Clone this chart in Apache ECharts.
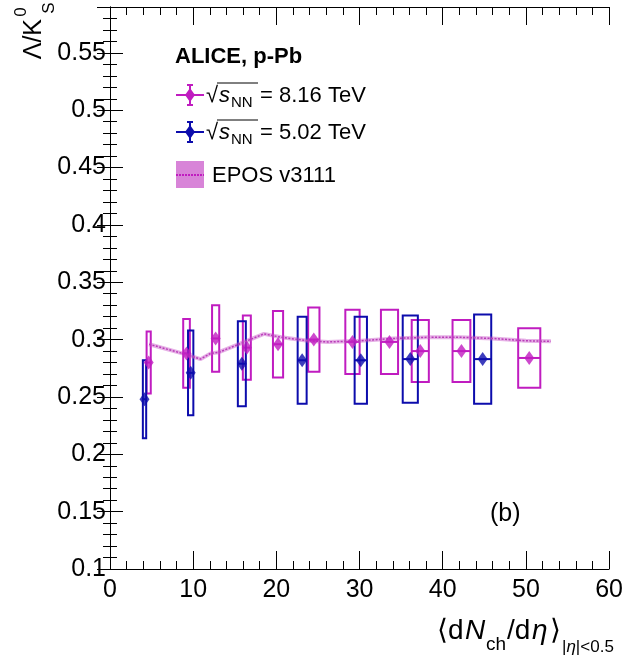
<!DOCTYPE html>
<html>
<head>
<meta charset="utf-8">
<script src="https://cdn.jsdelivr.net/npm/echarts@6/dist/echarts.min.js"></script>
<style>
html,body{margin:0;padding:0;background:#fff;}
#c{width:626px;height:658px;}
</style>
</head>
<body>
<div id="c"></div>
<script>
// ---- data ----
const xTicks = [0, 10, 20, 30, 40, 50, 60];
const yTicks = [0.1, 0.15, 0.2, 0.25, 0.3, 0.35, 0.4, 0.45, 0.5, 0.55];

// sqrt(sNN) = 8.16 TeV
const magX   = [4.65, 9.2, 12.7, 16.45, 20.2, 24.5, 29.15, 33.6, 37.3, 42.25, 50.4];
const magY   = [0.280, 0.288, 0.301, 0.293, 0.296, 0.300, 0.298, 0.298, 0.290, 0.290, 0.284];
const magSys = [0.027, 0.030, 0.029, 0.028, 0.029, 0.028, 0.028, 0.028, 0.027, 0.027, 0.026];
const magDx  = [0.25, 0.40, 0.43, 0.48, 0.61, 0.68, 0.86, 1.03, 1.03, 1.07, 1.33];

// sqrt(sNN) = 5.02 TeV
const bluX   = [4.15, 9.7, 15.85, 23.1, 30.15, 36.1, 44.8];
const bluY   = [0.248, 0.271, 0.279, 0.282, 0.282, 0.283, 0.283];
const bluSys = [0.034, 0.037, 0.037, 0.038, 0.038, 0.038, 0.039];
const bluDx  = [0.20, 0.32, 0.48, 0.54, 0.74, 0.91, 1.03];

// EPOS v3111
const eposX = [4.7, 8.7, 10.9, 12.1, 13.1, 15.5, 18.5, 20.6, 23.8, 26.2, 30.2, 34.1, 38.1, 42.1, 46.0, 50.0, 53.0];
const eposY = [0.296, 0.288, 0.283, 0.288, 0.289, 0.296, 0.305, 0.302, 0.299, 0.298, 0.299, 0.301, 0.302, 0.302, 0.301, 0.299, 0.2985];

// ---- styles ----
const MAG = '#c01cc0';
const BLU = '#0c0cac';
const EPOS = '#b83cb8';
const FONT = '"Liberation Sans", Arial, Helvetica, sans-serif';

const magData = magX.map((x, i) => [x, magY[i], magSys[i], magDx[i]]);
const bluData = bluX.map((x, i) => [x, bluY[i], bluSys[i], bluDx[i]]);
const eposData = eposX.map((x, i) => [x, eposY[i]]);

function boxRenderer(color) {
  return function (params, api) {
    const x = api.value(0), y = api.value(1), s = api.value(2), dx = api.value(3);
    const p1 = api.coord([x - dx, y + s]);
    const p2 = api.coord([x + dx, y - s]);
    const pl = api.coord([x - dx, y]);
    const pr = api.coord([x + dx, y]);
    return {
      type: 'group',
      children: [
        { type: 'rect', shape: { x: p1[0], y: p1[1], width: p2[0] - p1[0], height: p2[1] - p1[1] },
          style: { fill: 'none', stroke: color, lineWidth: 2 } },
        { type: 'line', shape: { x1: pl[0], y1: pl[1], x2: pr[0], y2: pr[1] },
          style: { stroke: color, lineWidth: 2 } }
      ]
    };
  };
}

const axisCommon = {
  axisLine: { show: true, lineStyle: { color: '#000', width: 1 } },
  splitLine: { show: false },
};

const chart = echarts.init(document.getElementById('c'), null, { renderer: 'canvas' });

function legendIcon(cx, cy, color) {
  return [
    { type: 'line', shape: { x1: cx - 14, y1: cy, x2: cx + 14, y2: cy }, style: { stroke: color, lineWidth: 2 } },
    { type: 'line', shape: { x1: cx, y1: cy - 10, x2: cx, y2: cy + 10 }, style: { stroke: color, lineWidth: 2 } },
    { type: 'line', shape: { x1: cx - 3, y1: cy - 10, x2: cx + 3, y2: cy - 10 }, style: { stroke: color, lineWidth: 2 } },
    { type: 'line', shape: { x1: cx - 3, y1: cy + 10, x2: cx + 3, y2: cy + 10 }, style: { stroke: color, lineWidth: 2 } },
    { type: 'polygon', shape: { points: [[cx, cy - 7], [cx + 5, cy], [cx, cy + 7], [cx - 5, cy]] }, style: { fill: color } }
  ];
}

function sqrtLabel(y, energy) {
  return [
    { type: 'text', x: 206, y: y, style: { text: '√', font: '22px ' + FONT, fill: '#000', textVerticalAlign: 'middle' } },
    { type: 'line', shape: { x1: 217, y1: y - 13, x2: 258, y2: y - 13 }, style: { stroke: '#000', lineWidth: 1 } },
    { type: 'text', x: 219, y: y, style: { text: 's', font: 'italic 22px ' + FONT, fill: '#000', textVerticalAlign: 'middle' } },
    { type: 'text', x: 231, y: y + 7, style: { text: 'NN', font: '15px ' + FONT, fill: '#000', textVerticalAlign: 'middle' } },
    { type: 'text', x: 260, y: y, style: { text: '= ' + energy + ' TeV', font: '22px ' + FONT, fill: '#000', textVerticalAlign: 'middle' } }
  ];
}

const graphics = [
  { type: 'text', x: 175, y: 57, style: { text: 'ALICE, p-Pb', font: 'bold 22px ' + FONT, fill: '#000', textVerticalAlign: 'middle' } },
  ...legendIcon(190, 95, MAG),
  ...sqrtLabel(96, '8.16'),
  ...legendIcon(190, 132, BLU),
  ...sqrtLabel(133, '5.02'),
  { type: 'rect', shape: { x: 176, y: 161, width: 28, height: 27 }, style: { fill: 'rgba(190,50,190,0.6)', stroke: 'none' } },
  { type: 'line', shape: { x1: 176, y1: 175, x2: 204, y2: 175 }, style: { stroke: MAG, lineWidth: 2, lineDash: [2, 1] } },
  { type: 'text', x: 212, y: 176, style: { text: 'EPOS v3111', font: '22px ' + FONT, fill: '#000', textVerticalAlign: 'middle' } },
  { type: 'text', x: 490, y: 514, style: { text: '(b)', font: '25px ' + FONT, fill: '#000', textVerticalAlign: 'middle' } },
  // y-axis title  Λ/K^0_S  (rotated)
  { type: 'text', x: 34, y: 19, rotation: Math.PI / 2,
    style: { text: 'Λ/K', font: '25px ' + FONT, fill: '#000', textAlign: 'right', textVerticalAlign: 'middle' } },
  { type: 'text', x: 21, y: 12, rotation: Math.PI / 2,
    style: { text: '0', font: '17px ' + FONT, fill: '#000', textAlign: 'center', textVerticalAlign: 'middle' } },
  { type: 'text', x: 49, y: 8, rotation: Math.PI / 2,
    style: { text: 'S', font: '17px ' + FONT, fill: '#000', textAlign: 'center', textVerticalAlign: 'middle' } },
  // x-axis title  <dN_ch/dη>_|η|<0.5
  { type: 'text', x: 437, y: 631, style: { text: '⟨d', font: '28px ' + FONT, fill: '#000', textVerticalAlign: 'middle' } },
  { type: 'text', x: 465, y: 631, style: { text: 'N', font: 'italic 28px ' + FONT, fill: '#000', textVerticalAlign: 'middle' } },
  { type: 'text', x: 486, y: 645, style: { text: 'ch', font: '19px ' + FONT, fill: '#000', textVerticalAlign: 'middle' } },
  { type: 'text', x: 507, y: 631, style: { text: '/d', font: '28px ' + FONT, fill: '#000', textVerticalAlign: 'middle' } },
  { type: 'text', x: 532, y: 631, style: { text: 'η', font: 'italic 28px ' + FONT, fill: '#000', textVerticalAlign: 'middle' } },
  { type: 'text', x: 550, y: 631, style: { text: '⟩', font: '28px ' + FONT, fill: '#000', textVerticalAlign: 'middle' } },
  { type: 'text', x: 562, y: 647, style: { text: '{a||}{i|η}{a||<0.5}', fill: '#000', textVerticalAlign: 'middle',
      rich: { a: { font: '17px ' + FONT }, i: { font: 'italic 17px ' + FONT } } } }
];

chart.setOption({
  animation: false,
  backgroundColor: '#fff',
  grid: { left: 110, right: 12, top: 7, bottom: 89 },
  xAxis: [
    Object.assign({}, axisCommon, {
      type: 'value', position: 'bottom', min: 0, max: 60, interval: 10,
      axisTick: { show: true, inside: true, length: 18, lineStyle: { color: '#000' } },
      minorTick: { show: true, splitNumber: 5, length: 8, lineStyle: { color: '#000' } },
      minorSplitLine: { show: false },
      axisLabel: { show: true, fontSize: 25, fontFamily: FONT, color: '#000', margin: 9,
        formatter: v => (xTicks.indexOf(v) >= 0 ? String(v) : '') }
    }),
    Object.assign({}, axisCommon, {
      type: 'value', position: 'top', min: 0, max: 60, interval: 10,
      axisTick: { show: true, inside: true, length: 18, lineStyle: { color: '#000' } },
      minorTick: { show: true, splitNumber: 5, length: 8, lineStyle: { color: '#000' } },
      axisLabel: { show: false }
    })
  ],
  yAxis: [
    Object.assign({}, axisCommon, {
      type: 'value', position: 'left', min: 0.1, max: 0.59, interval: 0.05,
      axisTick: { show: true, inside: true, length: 13, lineStyle: { color: '#000' } },
      minorTick: { show: true, splitNumber: 5, length: 7, lineStyle: { color: '#000' } },
      axisLabel: { show: true, fontSize: 25, fontFamily: FONT, color: '#000', margin: 4, showMaxLabel: false,
        formatter: v => {
          const m = yTicks.find(t => Math.abs(t - v) < 1e-6);
          return m === undefined ? '' : String(m);
        } }
    }),
    Object.assign({}, axisCommon, {
      type: 'value', position: 'right', min: 0.1, max: 0.59, interval: 0.05,
      axisTick: { show: true, inside: true, length: 13, lineStyle: { color: '#000' } },
      minorTick: { show: true, splitNumber: 5, length: 7, lineStyle: { color: '#000' } },
      axisLabel: { show: false }
    })
  ],
  series: [
    { type: 'custom', name: 'mag-sys', xAxisIndex: 0, yAxisIndex: 0, renderItem: boxRenderer(MAG),
      encode: { x: 0, y: 1 }, data: magData, z: 2 },
    { type: 'custom', name: 'blu-sys', xAxisIndex: 0, yAxisIndex: 0, renderItem: boxRenderer(BLU),
      encode: { x: 0, y: 1 }, data: bluData, z: 3 },
    { type: 'line', name: 'EPOS band', data: eposData, showSymbol: false, smooth: false, z: 4,
      lineStyle: { color: 'rgba(200,80,200,0.45)', width: 4 } },
    { type: 'line', name: 'EPOS v3111', data: eposData, showSymbol: false, smooth: false, z: 5,
      lineStyle: { color: EPOS, width: 1.5, type: [2, 1.5] } },
    { type: 'scatter', name: '8.16 TeV', data: magData.map(d => [d[0], d[1]]), symbol: 'diamond',
      symbolSize: [10, 14], itemStyle: { color: MAG }, z: 6 },
    { type: 'scatter', name: '5.02 TeV', data: bluData.map(d => [d[0], d[1]]), symbol: 'diamond',
      symbolSize: [10, 14], itemStyle: { color: BLU }, z: 7 }
  ],
  graphic: graphics
});
</script>
</body>
</html>
